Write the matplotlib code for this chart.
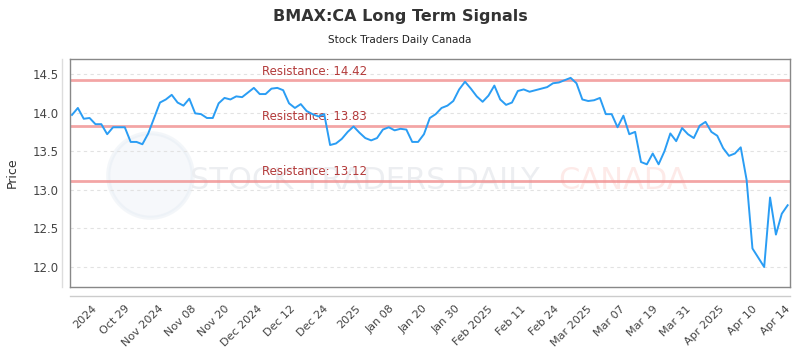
import matplotlib
matplotlib.use("Agg")
from matplotlib import pyplot as plt
from matplotlib import font_manager
import numpy as np

# closing prices, one per trading day
prices = [
    13.97, 14.06, 13.92, 13.93, 13.85, 13.85, 13.72, 13.81, 13.81, 13.81,
    13.62, 13.62, 13.59, 13.73, 13.93, 14.13, 14.17, 14.23, 14.13, 14.09,
    14.18, 13.99, 13.98, 13.93, 13.93, 14.12, 14.19, 14.17, 14.21, 14.20,
    14.26, 14.32, 14.24, 14.24, 14.31, 14.32, 14.29, 14.12, 14.06, 14.11,
    14.02, 13.98, 13.95, 13.98, 13.58, 13.60, 13.66, 13.75, 13.82, 13.74,
    13.67, 13.64, 13.67, 13.78, 13.81, 13.77, 13.79, 13.78, 13.62, 13.62,
    13.72, 13.93, 13.98, 14.06, 14.09, 14.15, 14.30, 14.40, 14.31, 14.21,
    14.14, 14.22, 14.35, 14.17, 14.10, 14.13, 14.28, 14.30, 14.27, 14.29,
    14.31, 14.33, 14.38, 14.39, 14.42, 14.45, 14.38, 14.17, 14.15, 14.16,
    14.19, 13.98, 13.98, 13.81, 13.96, 13.72, 13.75, 13.36, 13.33, 13.47,
    13.33, 13.50, 13.73, 13.63, 13.80, 13.72, 13.67, 13.83, 13.88, 13.75,
    13.70, 13.54, 13.44, 13.47, 13.55, 13.13, 12.24, 12.12, 12.00, 12.90,
    12.42, 12.69, 12.80,
]

resistance_levels = [14.42, 13.83, 13.12]

tick_labels = [
    "2024", "Oct 29", "Nov 2024", "Nov 08", "Nov 20", "Dec 2024", "Dec 12",
    "Dec 24", "2025", "Jan 08", "Jan 20", "Jan 30", "Feb 2025", "Feb 11",
    "Feb 24", "Mar 2025", "Mar 07", "Mar 19", "Mar 31", "Apr 2025",
    "Apr 10", "Apr 14",
]

# pick a narrow face if there is one
names = {f.name for f in font_manager.fontManager.ttflist}
narrow = "DejaVu Sans"
for cand in ["Liberation Sans Narrow", "DejaVu Sans Condensed"]:
    if cand in names:
        narrow = cand
        break

x = np.arange(len(prices))

fig = plt.figure(figsize=(8, 3.5), dpi=100)
ax = fig.add_axes([0.0875, 0.18, 0.9, 0.6514])

# watermark
ax.scatter([13.3], [13.19], s=3700, color="#e6edf5", alpha=0.35,
           edgecolor="#dfe7f0", linewidth=3, zorder=0)
ax.text(50, 13.12, "STOCK TRADERS DAILY", fontsize=22, color="#eceef1",
        ha="center", va="center", family=narrow, zorder=0)
ax.text(94, 13.12, "CANADA", fontsize=22, color="#fdeae8",
        ha="center", va="center", family=narrow, zorder=0)

for lvl in resistance_levels:
    ax.axhline(lvl, color="#f08f8f", linewidth=2, alpha=0.8, zorder=2)
    ax.text(32.4, lvl + 0.03, f"Resistance: {lvl:.2f}", color="#b33a3a",
            fontsize=8.5, ha="left", va="bottom", zorder=3)

ax.plot(x, prices, color="#2a9df4", linewidth=1.4, zorder=4)

ax.set_xlim(-0.34, 122.4)
ax.set_ylim(11.741, 14.694)
ax.set_yticks([12.0, 12.5, 13.0, 13.5, 14.0, 14.5])
ax.set_yticklabels(["12.0", "12.5", "13.0", "13.5", "14.0", "14.5"])
ax.yaxis.grid(True, color="#e2e2e2", linestyle=(0, (3, 3)), linewidth=0.8)

ax.set_xticks(np.linspace(3.4, 121.5, len(tick_labels)))
ax.set_xticklabels(tick_labels, rotation=45, ha="right",
                   rotation_mode="anchor")
ax.tick_params(axis="x", length=0, pad=12, labelsize=8, labelcolor="#444444")
ax.tick_params(axis="y", length=0, pad=8, labelsize=8.5, labelcolor="#444444")

for side in ["left", "right", "top", "bottom"]:
    ax.spines[side].set_color("#888888")
    ax.spines[side].set_linewidth(1)

# lighter outer axis lines
fig.add_artist(plt.Line2D([0.0875, 0.9875], [1 - 296 / 350] * 2,
                          color="#cccccc", linewidth=1))
fig.add_artist(plt.Line2D([62 / 800] * 2, [1 - 287 / 350, 1 - 59 / 350],
                          color="#dddddd", linewidth=1))

ax.set_ylabel("Price", fontsize=9, color="#333333", labelpad=10)

fig.text(0.5, 1 - 16 / 350, "BMAX:CA Long Term Signals", ha="center",
         va="center", fontsize=11.5, fontweight="bold", color="#333333",
         family=narrow)
fig.text(0.5, 1 - 40 / 350, "Stock Traders Daily Canada", ha="center",
         va="center", fontsize=7.5, color="#222222", family=narrow)

fig.savefig("out.png", dpi=100)
